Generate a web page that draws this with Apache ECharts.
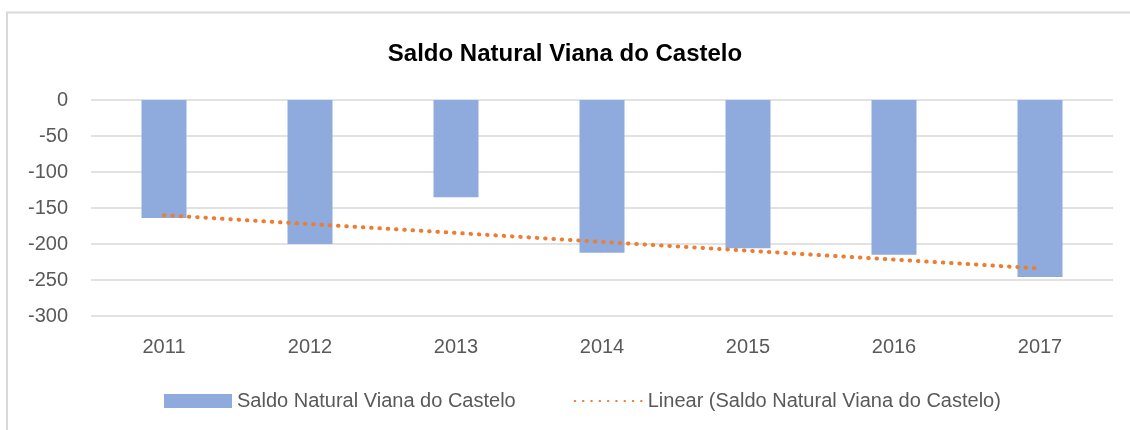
<!DOCTYPE html>
<html>
<head>
<meta charset="utf-8">
<script src="https://cdn.jsdelivr.net/npm/echarts@6/dist/echarts.min.js"></script>
<style>
  html, body { margin: 0; padding: 0; background: #fff; }
  #chart { width: 1130px; height: 430px; }
</style>
</head>
<body>
<div id="chart"></div>
<script>
// anos e valores
const anos = ['2011', '2012', '2013', '2014', '2015', '2016', '2017'];
const saldoNatural = [-164, -200, -135, -212, -206, -215, -246];
// linha de tendência (pontas, o meio fica vazio)
const tendencia = [-160, null, null, null, null, null, -234];
const yTicks = { min: -300, max: 0, step: 50 };

const serieNome = 'Saldo Natural Viana do Castelo';
const fonte = '"Liberation Sans", Arial, sans-serif';

const myChart = echarts.init(document.getElementById('chart'));

const option = {
  animation: false,
  backgroundColor: '#fff',
  textStyle: { fontFamily: fonte },
  title: {
    text: 'Saldo Natural Viana do Castelo',
    left: 'center',
    top: 37,
    textStyle: { fontSize: 24, fontWeight: 'bold', color: '#000', fontFamily: fonte }
  },
  legend: {
    left: 159,
    top: 386,
    itemWidth: 68,
    itemHeight: 14,
    itemGap: 58,
    textStyle: { fontSize: 20, color: '#595959', fontFamily: fonte },
    data: [
      { name: serieNome, icon: 'rect' },
      'Linear (' + serieNome + ')'
    ]
  },
  grid: {
    left: 91,
    right: 17,
    top: 100,
    bottom: 114
  },
  xAxis: {
    type: 'category',
    data: anos,
    axisLine: { show: false, onZero: false },
    axisTick: { show: false },
    axisLabel: { fontSize: 20, color: '#595959', margin: 21 }
  },
  yAxis: {
    type: 'value',
    min: yTicks.min,
    max: yTicks.max,
    interval: yTicks.step,
    axisLine: { show: false },
    axisTick: { show: false },
    axisLabel: { fontSize: 20, color: '#595959', margin: 23 },
    splitLine: { lineStyle: { color: '#d9d9d9', width: 1.5 } }
  },
  series: [
    {
      name: serieNome,
      type: 'bar',
      barWidth: 45,
      itemStyle: { color: '#8faadc' },
      data: saldoNatural
    },
    {
      name: 'Linear (' + serieNome + ')',
      type: 'line',
      symbol: 'none',
      connectNulls: true,
      lineStyle: { color: '#ed7d31', width: 4, type: [0.5, 7.8], cap: 'round' },
      // pontos escondidos (tambem some o circulo da legenda)
      itemStyle: { color: '#ed7d31', opacity: 0 },
      data: tendencia
    }
  ],
  graphic: [
    {
      type: 'polyline',
      shape: { points: [[7, 430], [7, 12.5], [1130, 12.5]] },
      style: { stroke: '#d9d9d9', lineWidth: 2, fill: null },
      silent: true
    }
  ]
};

myChart.setOption(option);
</script>
</body>
</html>
